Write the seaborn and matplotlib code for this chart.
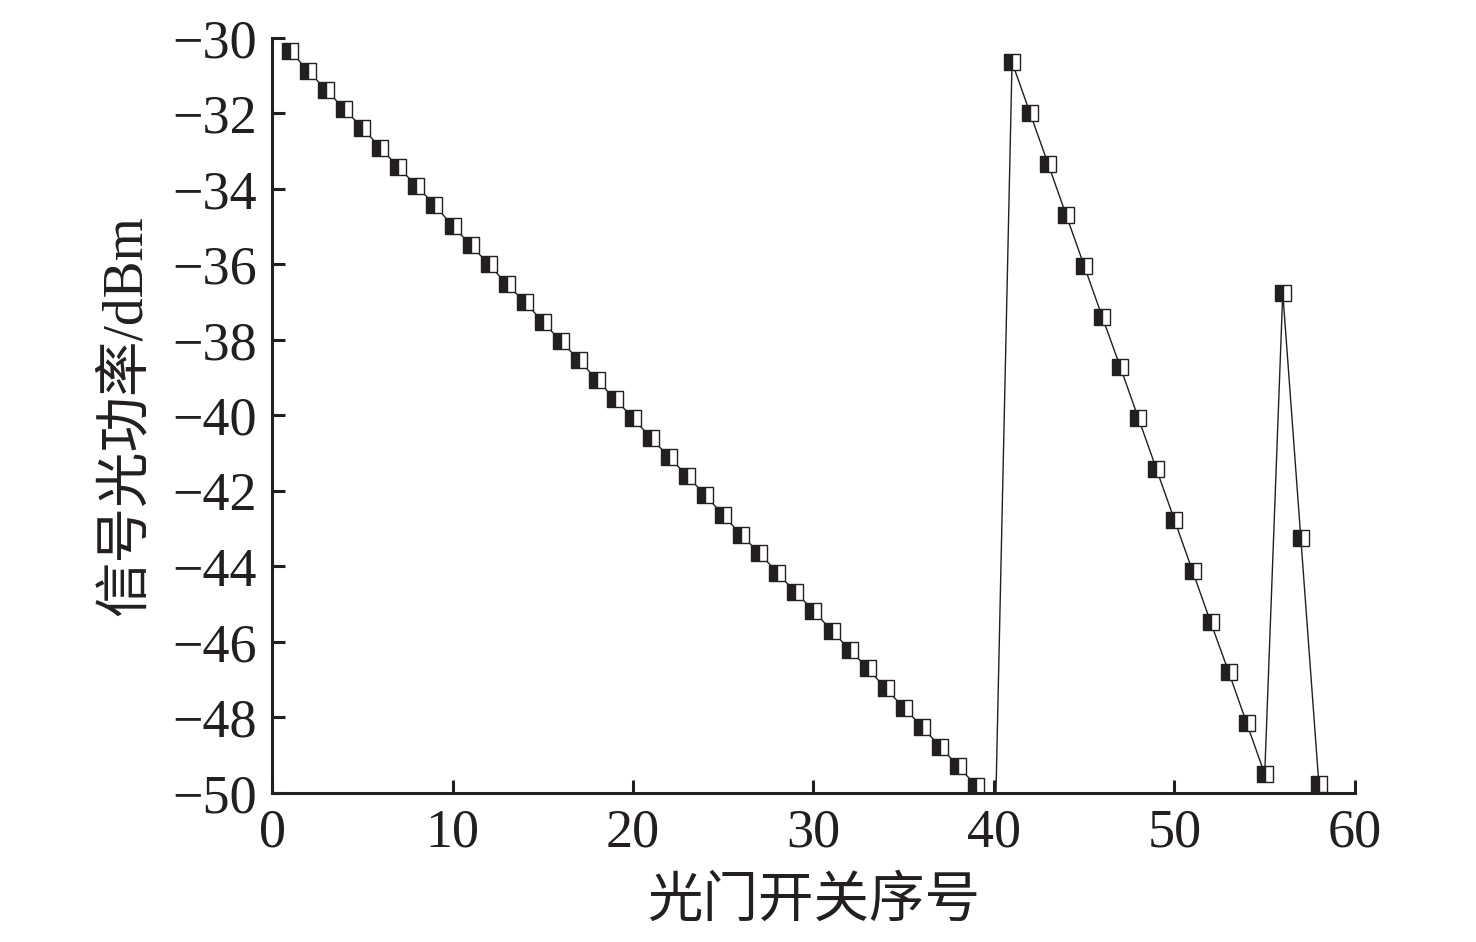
import numpy as np
import pandas as pd
import matplotlib
matplotlib.use("Agg")
import matplotlib.pyplot as plt
import seaborn as sns

# gate switch index
gate_index = list(range(1, 59))

# signal optical power (dBm)
power_dbm = [
    -30.34, -30.87, -31.38, -31.88, -32.38, -32.91, -33.42, -33.92, -34.42, -34.98,
    -35.48, -35.99, -36.52, -36.99, -37.52, -38.03, -38.53, -39.06, -39.56, -40.07,
    -40.60, -41.10, -41.60, -42.11, -42.64, -43.17, -43.64, -44.17, -44.68, -45.17,
    -45.70, -46.20, -46.70, -47.23, -47.74, -48.24, -48.77, -49.28, -49.81, -52.40,
    -30.64, -31.99, -33.34, -34.69, -36.04, -37.39, -38.72, -40.07, -41.42, -42.77,
    -44.12, -45.47, -46.79, -48.15, -49.50, -36.75, -43.25, -49.76,
]

x_ticks = [0, 10, 20, 30, 40, 50, 60]
y_ticks = [-30, -32, -34, -36, -38, -40, -42, -44, -46, -48, -50]

df = pd.DataFrame({"gate": gate_index, "power": power_dbm})

sns.set_theme(style="ticks")
plt.rcParams["font.family"] = ["Liberation Serif", "Noto Sans CJK SC"]

ink = "#231f20"
fig = plt.figure(figsize=(14.76, 9.42), dpi=100)
ax = fig.add_axes([0.1843, 0.1582, 0.918 - 0.1843, 0.9597 - 0.1582])

sns.lineplot(data=df, x="gate", y="power", ax=ax, color=ink, linewidth=1.0,
             marker="s", markersize=11, fillstyle="left",
             markerfacecolor=ink, markerfacecoloralt="white",
             markeredgecolor=ink, markeredgewidth=1.0, estimator=None)

ax.set_xlim(0, 60)
ax.set_ylim(-50, -30)
ax.set_xticks(x_ticks)
ax.set_yticks(y_ticks)
ax.set_xticklabels([str(v) for v in x_ticks])
ax.set_yticklabels([f"\u2212{abs(v)}" for v in y_ticks])

for side in ["top", "right"]:
    ax.spines[side].set_visible(False)
for side in ["left", "bottom"]:
    ax.spines[side].set_linewidth(2.2)
    ax.spines[side].set_color(ink)

ax.tick_params(direction="in", length=9.5, width=2.2, color=ink,
               labelsize=39, labelcolor=ink, pad=11)

ax.set_xlabel("光门开关序号", fontsize=40, color=ink, labelpad=10,
              family=["Noto Sans CJK SC"])
ax.set_ylabel("信号光功率/dBm", fontsize=40, color=ink, labelpad=14,
              family=["Liberation Serif", "Noto Sans CJK SC"])

fig.savefig("out.png", dpi=100)
